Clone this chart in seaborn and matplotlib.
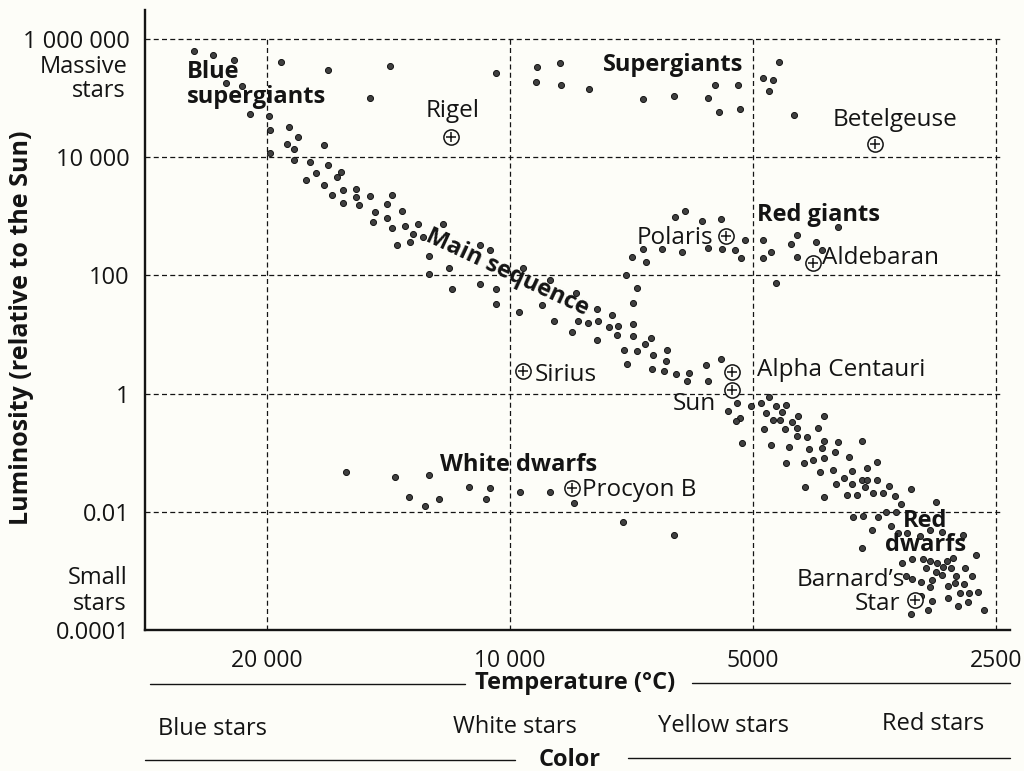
import pandas as pd
import seaborn as sns
import matplotlib.pyplot as plt
from matplotlib.lines import Line2D

# values: temperature (°C) and luminosity (Sun = 1)
supergiant_temp = [24600, 23300, 22000, 22500, 21500, 21000, 19900, 19200, 16800, 14100, 14900,
                   10400, 9260, 8670, 9280, 8650, 7980, 6840, 6260, 5680, 5570, 5220, 5510, 5190,
                   4640, 4860, 4720, 4780, 4450]
supergiant_lum = [6.3e5, 5.4e5, 4.4e5, 1.8e5, 1.6e5, 5.4e4, 5.0e4, 4.1e5, 3.0e5, 3.5e5, 1.0e5,
                  2.7e5, 3.4e5, 3.9e5, 1.9e5, 1.7e5, 1.4e5, 9.7e4, 1.1e5, 1.0e5, 1.7e5, 1.7e5, 5.8e4, 6.5e4,
                  4.1e5, 2.2e5, 2.0e5, 1.3e5, 5.2e4]

upper_ms_temp = [19800, 18800, 18300, 18900, 18500, 17000, 19800, 18500, 17700, 16800, 17400, 17900,
                 16200, 16400, 17000, 16600, 16100, 15500, 15500, 16100, 15400, 14900, 14000, 14200,
                 14700, 13600, 14800, 14200, 14000, 13500, 13000, 13200, 12800, 13800, 13300, 12100,
                 12600, 12600, 11900, 11800, 10900, 10600, 10900, 10400, 10400, 9640, 9740, 8920,
                 9130, 8280, 8820, 8240, 8380, 8000, 7800, 7780, 7480, 7540, 7350, 7370, 7800, 7040,
                 7040, 7220, 6960, 6800, 6690, 6650, 7160, 6670, 6390, 6410, 6450, 6230, 6000, 6030,
                 5720, 5680, 5480]
upper_ms_lum = [2.9e4, 3.2e4, 2.2e4, 1.7e4, 1.4e4, 1.6e4, 1.2e4, 9000, 8300, 7400, 5400, 4100,
                5600, 4600, 3400, 2300, 2800, 2900, 2100, 1700, 1550, 2200, 2300, 1600,
                1200, 1230, 800, 940, 630, 690, 740, 500, 450, 330, 370, 740,
                210, 106, 133, 59, 330, 270, 72, 59, 33, 133, 24, 84,
                32, 50, 17, 17, 11, 15.7, 27, 16.9, 21, 13.4, 13.9, 9.8, 8.1, 15,
                9.4, 5.5, 5.3, 6.9, 8.7, 4.5, 3.2, 2.6, 5.5, 3.6, 2.4, 2.15, 2.2, 1.63,
                3.05, 1.63, 3.85]

lower_ms_temp = [5230, 5370, 5190, 5250, 5030, 5160, 4890, 4780, 4680, 4550, 4820, 4720, 4630, 4600,
                 4470, 4400, 4080, 4850, 4560, 4410, 4160, 4410, 4290, 4750, 4510, 4090, 3920, 3670,
                 4260, 4110, 3960, 4550, 4330, 4210, 4080, 3800, 3510, 4130, 3980, 3770, 3610, 3860,
                 3950, 3770, 3670, 3610, 3630, 3510, 3550, 3450, 3390, 3340, 3190, 4310, 4080, 3820,
                 3720, 3280, 2970, 3760, 3650, 3500, 3420, 3330, 3560, 3370, 3310, 3220, 3110, 3020,
                 2920, 2750, 3670, 3270, 3180, 3080, 3020, 2960, 2880, 2830, 2650, 3050, 2970, 2910,
                 2840, 2730, 2920, 2800, 2680, 3230, 3180, 3100, 3000, 2810, 2740, 3020, 2870, 2770,
                 2700, 2630, 3100, 3000, 2870, 2790, 2710, 2590, 3190, 3040]
lower_ms_lum = [0.69, 0.51, 0.39, 0.34, 0.62, 0.146, 0.69, 0.88, 0.62, 0.64, 0.47, 0.36, 0.36, 0.49,
                0.33, 0.42, 0.42, 0.25, 0.25, 0.26, 0.26, 0.19, 0.185, 0.135, 0.125, 0.158, 0.152, 0.158,
                0.116, 0.12, 0.103, 0.067, 0.067, 0.075, 0.081, 0.085, 0.070, 0.047, 0.051, 0.049, 0.055, 0.037,
                0.030, 0.030, 0.0345, 0.0345, 0.026, 0.0345, 0.021, 0.021, 0.027, 0.0185, 0.024, 0.026, 0.0178, 0.019,
                0.019, 0.0136, 0.0147, 0.0082, 0.0085, 0.0082, 0.0099, 0.0099, 0.0049, 0.0058, 0.0044, 0.0044, 0.0039, 0.0049,
                0.0046, 0.0041, 0.0024, 0.00136, 0.00159, 0.00159, 0.00147, 0.00136, 0.00147, 0.00165, 0.00186, 0.00112, 0.00096, 0.00116,
                0.00112, 0.00112, 0.00085, 0.00082, 0.00082, 0.00082, 0.00073, 0.00065, 0.00070, 0.00062, 0.00060, 0.00054, 0.00056, 0.00042,
                0.00042, 0.00044, 0.00038, 0.00031, 0.00035, 0.00025, 0.00030, 0.00022, 0.00019, 0.00022]

red_giant_temp = [6250, 6070, 5780, 5480, 6840, 6480, 6120, 5680, 5460, 5260, 5170, 5110, 7060, 6780,
                  7180, 6960, 7040, 4860, 4750, 4860, 4490, 4410, 4410, 4180, 4110, 3920, 4680]
red_giant_lum = [970, 1230, 830, 900, 280, 280, 250, 290, 280, 270, 197, 400, 205, 169,
                 102, 61, 34, 400, 250, 197, 340, 480, 205, 367, 269, 660, 74]

white_dwarf_temp = [15970, 13880, 12600, 13340, 12740, 12240, 11240, 10590, 10710, 9720, 8920, 8330, 7250, 6260]
white_dwarf_lum = [0.047, 0.039, 0.042, 0.0178, 0.0125, 0.0165, 0.026, 0.025, 0.0165, 0.0216, 0.0216, 0.0141,
                   0.0067, 0.0041]

named_stars = ["Rigel", "Betelgeuse", "Polaris", "Aldebaran", "Sirius", "Alpha Centauri", "Sun",
               "Procyon B", "Barnard’s Star"]
named_temp = [11830, 3530, 5400, 4220, 9640, 5310, 5310, 8380, 3150]
named_lum = [2.2e4, 1.67e4, 464, 162, 2.41, 2.32, 1.15, 0.025, 0.00032]

lum_ticks = [1e-4, 1e-2, 1, 1e2, 1e4, 1e6]
lum_labels = ["0.0001", "0.01", "1", "100", "10 000", "1 000 000"]
temp_ticks = [20000, 10000, 5000, 2500]
temp_labels = ["20 000", "10 000", "5000", "2500"]

sns.set_style("white")
plt.rcParams['font.family'] = ['Open Sans', 'DejaVu Sans']

paper = "#fdfdf8"
ink = "#141414"
W, H = 1024, 771

fig = plt.figure(figsize=(W / 100, H / 100), dpi=100, facecolor=paper)
ax = fig.add_axes([145 / W, 1 - 630 / H, 865 / W, 620 / H])
ax.set_facecolor(paper)


def put(x, y, s, **kw):
    # place text by pixel position in the 1024x771 figure
    fig.text(x / W, 1 - y / H, s, **kw)


groups = [("supergiants", supergiant_temp, supergiant_lum),
          ("main sequence", upper_ms_temp + lower_ms_temp, upper_ms_lum + lower_ms_lum),
          ("red giants", red_giant_temp, red_giant_lum),
          ("white dwarfs", white_dwarf_temp, white_dwarf_lum)]
stars = pd.concat([pd.DataFrame({"temp": t, "lum": l, "group": g}) for g, t, l in groups],
                  ignore_index=True)

sns.scatterplot(data=stars, x="temp", y="lum", ax=ax, s=19, color="#404040",
                edgecolor=ink, linewidth=0.7, legend=False, zorder=3)

ax.set_xscale("log")
ax.set_yscale("log")
ax.set_xlim(28320, 2403)
ax.set_ylim(1e-4, 3.1e6)
ax.minorticks_off()

# dashed reference lines
dash = (0, (4, 2.6))
ax.hlines(lum_ticks[1:], 28320, 2460, colors=ink, linestyles=dash, lw=0.9, zorder=1)
ax.vlines(temp_ticks, 1e-4, 1e6, colors=ink, linestyles=dash, lw=0.9, zorder=1)

# named stars: circled plus
ax.scatter(named_temp, named_lum, s=120, facecolors=paper, edgecolors=ink, linewidths=1.1, zorder=4)
ax.scatter(named_temp, named_lum, s=45, marker="+", color=ink, linewidths=1.1, zorder=5)

fs_name = 17.5
offsets = {"Rigel": (1, 19, "center"), "Betelgeuse": (14, 17, "center"),
           "Polaris": (-9, -1.5, "right"), "Aldebaran": (7, 3.5, "left"),
           "Sirius": (8.5, -3, "left"), "Alpha Centauri": (18, 1.5, "left"),
           "Sun": (-11.5, -10, "right"), "Procyon B": (7, -1.5, "left")}
for name, t, l in zip(named_stars, named_temp, named_lum):
    if name in offsets:
        dx, dy, ha = offsets[name]
        ax.annotate(name, (t, l), xytext=(dx, dy), textcoords="offset points",
                    ha=ha, va="center", fontsize=fs_name, color=ink)
    else:
        ax.annotate("Barnard’s", (t, l), xytext=(-7, 14.5), textcoords="offset points",
                    ha="right", va="center", fontsize=fs_name, color=ink)
        ax.annotate("Star", (t, l), xytext=(-10.5, -3), textcoords="offset points",
                    ha="right", va="center", fontsize=fs_name, color=ink)

for side in ["top", "right"]:
    ax.spines[side].set_visible(False)
for side in ["left", "bottom"]:
    ax.spines[side].set_linewidth(1.7)
    ax.spines[side].set_color(ink)

ax.set_yticks(lum_ticks)
ax.set_yticklabels(lum_labels)
ax.set_xticks(temp_ticks)
ax.set_xticklabels(temp_labels)
ax.tick_params(axis="y", direction="out", length=6, width=1.2, pad=5, labelsize=17, colors=ink)
ax.tick_params(axis="x", direction="inout", length=11, width=1.2, pad=8, labelsize=16.5, colors=ink)
ax.set_xlabel("")
ax.set_ylabel("")

# group labels
bold = dict(fontsize=17, fontweight="bold", color=ink, va="center")
put(187, 72, "Blue", ha="left", **bold)
put(187, 97, "supergiants", ha="left", **bold)
put(673, 65, "Supergiants", ha="center", **bold)
put(757, 215, "Red giants", ha="left", **bold)
put(507, 273, "Main sequence", ha="center", rotation=-25, rotation_mode="anchor", **bold)
put(519, 465, "White dwarfs", ha="center", **bold)
put(925, 521, "Red", ha="center", **bold)
put(926, 545, "dwarfs", ha="center", **bold)

side = dict(fontsize=17, color=ink, ha="right", va="center")
put(128, 67, "Massive", **side)
put(126, 91, "stars", **side)
put(128, 578, "Small", **side)
put(127, 604, "stars", **side)

put(22, 328, "Luminosity (relative to the Sun)", rotation=90, ha="center", va="center",
    fontsize=18, fontweight="bold", color=ink)

# temperature and colour bands under the axis
put(575, 683, "Temperature (°C)", ha="center", va="center", fontsize=17, fontweight="bold", color=ink)
put(570, 760, "Color", ha="center", va="center", fontsize=17, fontweight="bold", color=ink)
for x0, x1, y in [(150, 465, 684), (692, 1010, 683), (145, 515, 760), (628, 1010, 758)]:
    fig.add_artist(Line2D([x0 / W, x1 / W], [1 - y / H, 1 - y / H], color=ink, lw=1.0))
band = dict(fontsize=17, color=ink, ha="center", va="center")
put(212, 729, "Blue stars", **band)
put(515, 727, "White stars", **band)
put(724, 726, "Yellow stars", **band)
put(933, 724, "Red stars", **band)

fig.savefig("out.png", dpi=100, facecolor=paper)
